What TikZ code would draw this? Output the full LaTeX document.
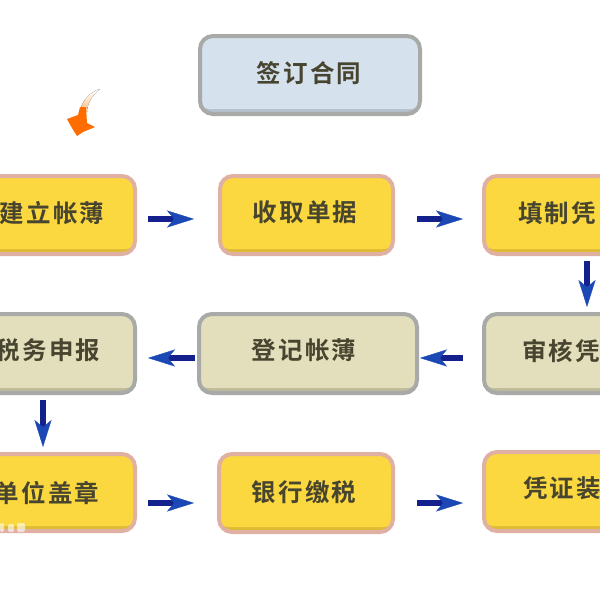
\documentclass[tikz,border=0pt]{standalone}
\usepackage{fontspec}
\usetikzlibrary{arrows.meta,calc}
\newfontfamily\cjk[LetterSpace=9]{Noto Sans CJK SC Bold}
\definecolor{ink}{HTML}{47442F}
\definecolor{yelfill}{HTML}{FBD83F}
\definecolor{yelbev}{HTML}{DDBB35}
\definecolor{pinkedge}{HTML}{E0B0A2}
\definecolor{khakifill}{HTML}{E3DFBD}
\definecolor{khakibev}{HTML}{BDBA9A}
\definecolor{greyedge}{HTML}{A8AAA7}
\definecolor{bluefill}{HTML}{D6E1EE}
\definecolor{bluebev}{HTML}{B4BFCC}
\definecolor{shaftblue}{HTML}{14208C}
\definecolor{headblue}{HTML}{1B48B4}
\tikzset{
  x=1pt,y=-1pt,
  panel/.style args={#1/#2/#3}{
    line width=4pt,rounded corners=13pt,draw=#3,fill=#2,inner sep=0pt,
    path picture={
      \fill[#1,rounded corners=9pt]
        ([yshift=2pt]path picture bounding box.north west)
        rectangle ([yshift=5pt]path picture bounding box.south east);
    }},
  yelbox/.style={panel=yelfill/yelbev/pinkedge},
  khakibox/.style={panel=khakifill/khakibev/greyedge},
  bluebox/.style={panel=bluefill/bluebev/greyedge},
  lbl/.style={font=\cjk\fontsize{24.5}{26}\selectfont,text=ink,inner sep=0pt},
  flow/.style={draw=shaftblue,line width=5.5pt,
    -{Stealth[length=27pt,width=17pt,inset=7pt,fill=headblue,color=headblue,line width=0.3pt]}},
}
\newcommand{\boxat}[7]{% name style x0 y0 x1 y1
  \node[#2,minimum width={(#5-(#3)-4)*1pt},minimum height={(#6-(#4)-4)*1pt}] (#1) at ({(#3+#5)/2},{(#4+#6)/2}) {};}
\begin{document}
\begin{tikzpicture}
\clip (0,0) rectangle (600,600);
\fill[white] (0,0) rectangle (600,600);
% boxes
\boxat{sign}{bluebox}{198}{34}{422}{116}{}
\boxat{a}{yelbox}{-60}{174}{137}{256}{}
\boxat{b}{yelbox}{218}{174}{395}{256}{}
\boxat{c}{yelbox}{482}{174}{660}{256}{}
\boxat{d}{khakibox}{-60}{312}{137}{395}{}
\boxat{e}{khakibox}{197}{312}{419}{395}{}
\boxat{f}{khakibox}{482}{312}{660}{395}{}
\boxat{g}{yelbox}{-60}{452}{137}{533}{}
\boxat{h}{yelbox}{217}{452}{395}{534}{}
\boxat{i}{yelbox}{482}{450}{660}{533}{}
% labels
\node[lbl] (tsign) at (309,73) {签订合同};
\node[lbl] (ta) at (52,213) {建立帐薄};
\node[lbl] (tb) at (305,212) {收取单据};
\node[lbl,anchor=west] (tc) at (518,213) {填制凭};
\node[lbl] (td) at (48,350) {税务申报};
\node[lbl] (te) at (304,350) {登记帐薄};
\node[lbl,anchor=west] (tf) at (522,351) {审核凭};
\node[lbl] (tg) at (47,493) {单位盖章};
\node[lbl] (th) at (304,492) {银行缴税};
\node[lbl,anchor=west] (ti) at (523,488) {凭证装};
% connectors
\draw[flow,shorten <=11pt,shorten >=24pt] ([yshift=-4pt]a.east) -- ([yshift=-4pt]b.west);
\draw[flow,shorten <=22pt,shorten >=19pt] ([yshift=-4pt]b.east) -- ([yshift=-4pt]c.west);
\draw[flow,shorten <=19pt,shorten >=1pt] ([yshift=-4.5pt]f.west) -- ([yshift=-4.5pt]e.east);
\draw[flow,shorten <=2pt,shorten >=11pt] ([yshift=-4.5pt]e.west) -- ([yshift=-4.5pt]d.east);
\coordinate (cdown) at (587,256);
\coordinate (fup) at (587,312);
\draw[flow,shorten <=5pt,shorten >=5pt] (cdown) -- (fup);
\coordinate (ddown) at (43,395);
\coordinate (gup) at (43,452);
\draw[flow,shorten <=5pt,shorten >=5pt] (ddown) -- (gup);
\draw[flow,shorten <=11pt,shorten >=23pt] ([yshift=-10.5pt]g.east) -- ([yshift=-10pt]h.west);
\draw[flow,shorten <=22pt,shorten >=19pt] ([yshift=-10pt]h.east) -- ([yshift=-11.5pt]i.west);
% small bird mark
\fill[top color=white,bottom color=orange!45!white,shading angle=-25]
  (100,89) .. controls (90,92) and (83,100) .. (80,110) -- (87,112) .. controls (87,104) and (92,95) .. (100,89) -- cycle;
\fill[orange!85!red]
  (67,119) -- (78,115) -- (80,107) -- (86,107) -- (87,123) -- (95,127)
  -- (83,132) -- (77,136) -- (72,128) -- cycle;
% faint watermark on lower left box
\fill[white,opacity=.6,rounded corners=2pt] (0,523) rectangle (4,532);
\fill[white,opacity=.6,rounded corners=2pt] (8,524) rectangle (14,532);
\fill[white,opacity=.6,rounded corners=2pt] (17,523) rectangle (25,532);
\end{tikzpicture}
\end{document}
